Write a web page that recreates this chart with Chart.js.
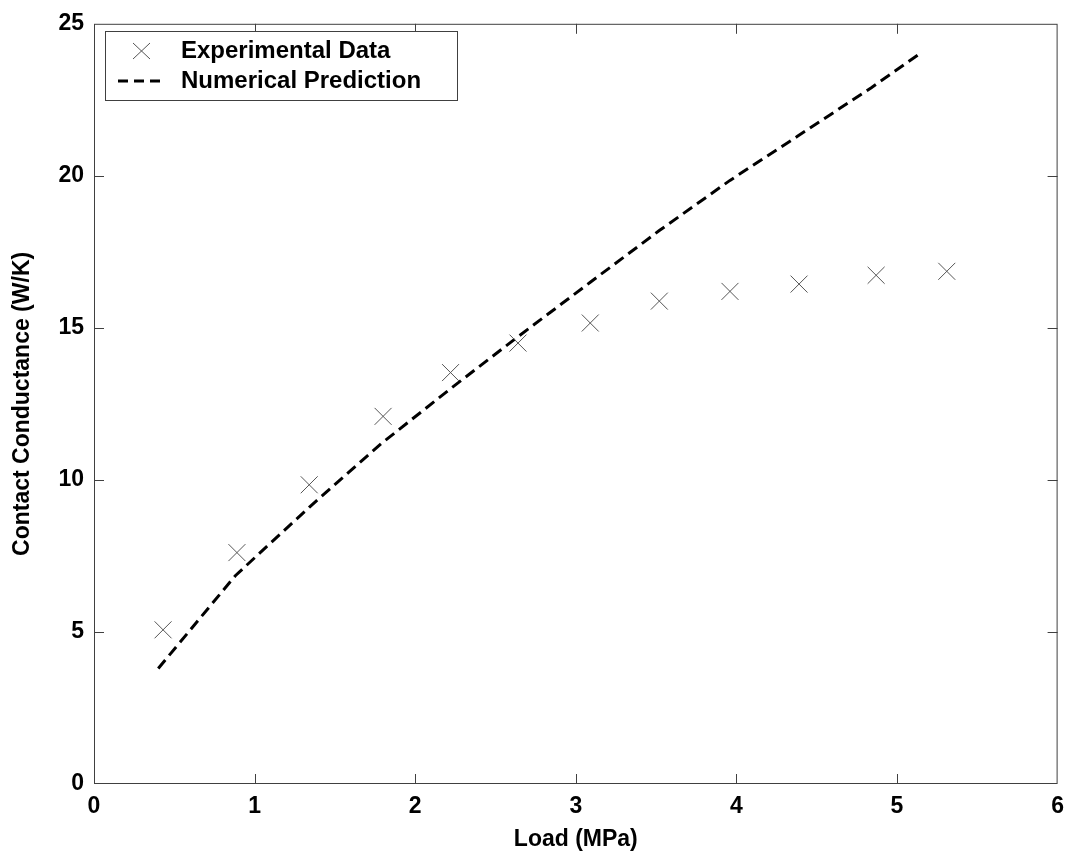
<!DOCTYPE html>
<html>
<head>
<meta charset="utf-8">
<script src="https://cdn.jsdelivr.net/npm/chart.js@4.4.1/dist/chart.umd.min.js"></script>
<style>
  html, body { margin: 0; padding: 0; background: #fff; }
  canvas { display: block; }
</style>
</head>
<body>
<canvas id="chart" width="1073" height="859"></canvas>
<script>
// Експериментальні точки (навантаження, провідність)
const loadExp = [0.43, 0.89, 1.34, 1.80, 2.22, 2.64, 3.09, 3.52, 3.96, 4.39, 4.87, 5.31];
const condExp = [5.07, 7.61, 9.84, 12.09, 13.53, 14.5, 15.16, 15.88, 16.2, 16.44, 16.73, 16.86];

// Числовий прогноз
const loadNum = [0.40, 0.88, 1.34, 1.79, 2.22, 2.65, 3.09, 3.52, 3.96, 4.38, 4.84, 5.15];
const condNum = [3.8, 6.85, 9.1, 11.2, 13.0, 14.75, 16.5, 18.2, 19.85, 21.3, 22.9, 24.05];

const xTicks = [0, 1, 2, 3, 4, 5, 6];
const yTicks = [0, 5, 10, 15, 20, 25];

const labelExp = 'Experimental Data';
const labelNum = 'Numerical Prediction';

Chart.defaults.font.family = '"Liberation Sans", Arial, sans-serif';
Chart.defaults.font.size = 23;
Chart.defaults.font.weight = 'bold';
Chart.defaults.color = '#000';

const toPoints = (xs, ys) => xs.map((x, i) => ({ x, y: ys[i] }));

// Рамка, внутрішні риски та легенда в стилі MATLAB
const framePlugin = {
  id: 'frame',
  afterDraw(chart) {
    const { ctx, chartArea: a, scales } = chart;
    const tick = 10;
    ctx.save();
    ctx.strokeStyle = '#404040';
    ctx.lineWidth = 1;
    ctx.strokeRect(a.left + 0.5, a.top + 0.5, a.right - a.left - 1, a.bottom - a.top - 1);

    // риски всередину, крайні збігаються з рамкою
    ctx.beginPath();
    xTicks.slice(1, -1).forEach(v => {
      const px = Math.round(scales.x.getPixelForValue(v)) + 0.5;
      ctx.moveTo(px, a.bottom); ctx.lineTo(px, a.bottom - tick);
      ctx.moveTo(px, a.top); ctx.lineTo(px, a.top + tick);
    });
    yTicks.slice(1, -1).forEach(v => {
      const py = Math.round(scales.y.getPixelForValue(v)) + 0.5;
      ctx.moveTo(a.left, py); ctx.lineTo(a.left + tick, py);
      ctx.moveTo(a.right, py); ctx.lineTo(a.right - tick, py);
    });
    ctx.stroke();

    // легенда
    const bx = 105.5, by = 31.5, bw = 352, bh = 69;
    ctx.fillStyle = '#fff';
    ctx.fillRect(bx, by, bw, bh);
    ctx.strokeStyle = '#404040';
    ctx.strokeRect(bx, by, bw, bh);

    const row1 = 51, row2 = 81;
    ctx.strokeStyle = '#555';
    ctx.lineWidth = 1;
    ctx.beginPath();
    ctx.moveTo(133, row1 - 8); ctx.lineTo(150, row1 + 8);
    ctx.moveTo(150, row1 - 8); ctx.lineTo(133, row1 + 8);
    ctx.stroke();

    ctx.strokeStyle = '#000';
    ctx.lineWidth = 3;
    ctx.setLineDash([10, 6]);
    ctx.beginPath();
    ctx.moveTo(118, row2); ctx.lineTo(164, row2);
    ctx.stroke();
    ctx.setLineDash([]);

    ctx.fillStyle = '#000';
    ctx.font = 'bold 24px "Liberation Sans", Arial, sans-serif';
    ctx.textBaseline = 'middle';
    ctx.fillText(labelExp, 181, row1);
    ctx.fillText(labelNum, 181, row2);
    ctx.restore();
  }
};

const chart = new Chart(document.getElementById('chart'), {
  type: 'scatter',
  data: {
    datasets: [{
      label: labelExp,
      data: toPoints(loadExp, condExp),
      pointStyle: 'crossRot',
      pointRadius: 12,
      pointHoverRadius: 12,
      borderColor: '#555',
      backgroundColor: '#555',
      pointBorderWidth: 1,
      showLine: false
    }, {
      label: labelNum,
      data: toPoints(loadNum, condNum),
      showLine: true,
      borderColor: '#000',
      borderWidth: 3,
      borderDash: [11, 6],
      pointRadius: 0,
      tension: 0,
      fill: false
    }]
  },
  options: {
    responsive: false,
    animation: false,
    layout: { padding: { top: 19, right: 15, left: 0, bottom: 0 } },
    plugins: {
      legend: { display: false },
      tooltip: { enabled: false }
    },
    scales: {
      x: {
        type: 'linear',
        min: 0,
        max: 6,
        afterBuildTicks: s => { s.ticks = xTicks.map(v => ({ value: v })); },
        afterFit: s => { s.height = 75; },
        grid: { display: false, drawTicks: false },
        border: { display: false },
        ticks: { padding: 9 },
        title: { display: true, text: 'Load (MPa)', padding: { top: 0, bottom: 6 } }
      },
      y: {
        type: 'linear',
        min: 0,
        max: 25,
        afterBuildTicks: s => { s.ticks = yTicks.map(v => ({ value: v })); },
        afterFit: s => { s.width = 94; },
        grid: { display: false, drawTicks: false },
        border: { display: false },
        ticks: { padding: 10 },
        title: { display: true, text: 'Contact Conductance (W/K)', padding: { top: 9, bottom: 0 } }
      }
    }
  },
  plugins: [framePlugin]
});
</script>
</body>
</html>
